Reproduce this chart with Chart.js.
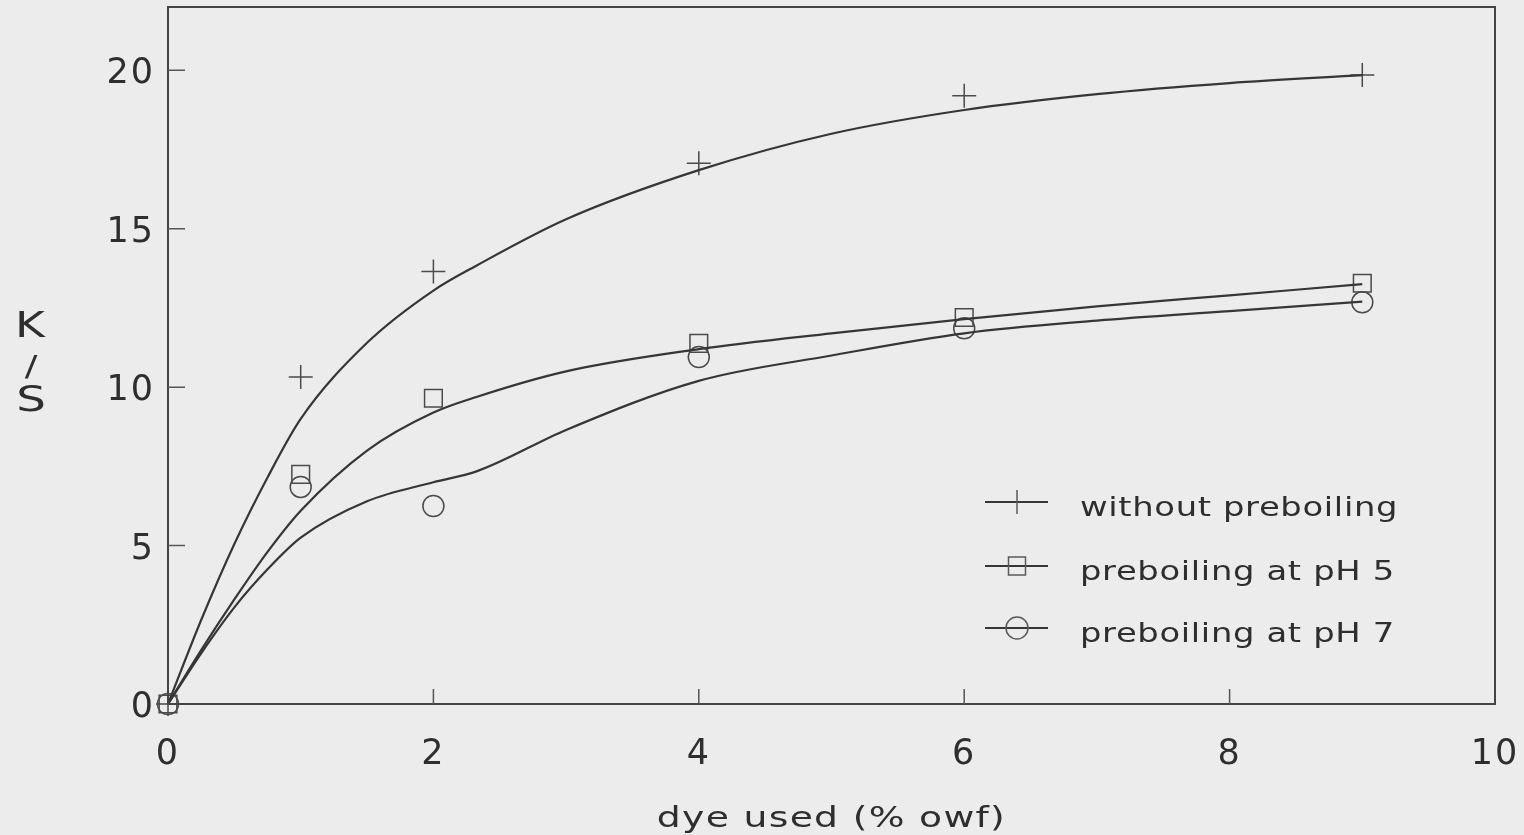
<!DOCTYPE html>
<html>
<head>
<meta charset="utf-8">
<script src="https://cdn.jsdelivr.net/npm/chart.js@4/dist/chart.umd.min.js"></script>
<style>
  html, body { margin: 0; padding: 0; background: #ececec; }
  #wrap { width: 1524px; height: 835px; position: relative; }
</style>
</head>
<body>
<div id="wrap"><canvas id="c" width="1524" height="835"></canvas></div>
<script>
// ---- data ----
const doses = [0, 1, 2, 4, 6, 9];
const withoutPre = [0, 10.32, 13.65, 17.07, 19.2, 19.85];
const pre5 = [0, 7.25, 9.65, 11.38, 12.2, 13.28];
const pre7 = [0, 6.85, 6.25, 10.95, 11.86, 12.68];

// fitted curves
const curveX = [0, 0.25, 0.5, 0.75, 1, 1.5, 2, 2.33, 3, 4, 5, 6, 7, 8, 9];
const curveWithout = [0, 2.65, 5.05, 7.15, 9.0, 11.4, 13.05, 13.85, 15.3, 16.85, 18.0, 18.75, 19.25, 19.6, 19.85];
const curve5 = [0, 1.7, 3.3, 4.8, 6.1, 8.0, 9.2, 9.7, 10.5, 11.2, 11.7, 12.15, 12.55, 12.9, 13.25];
const curve7 = [0, 1.6, 3.05, 4.25, 5.25, 6.4, 7.0, 7.35, 8.65, 10.2, 11.0, 11.7, 12.1, 12.4, 12.7];

const seriesNames = ['without preboiling', 'preboiling at pH 5', 'preboiling at pH 7'];
const markerStyles = ['cross', 'rect', 'circle'];
const xTicks = [0, 2, 4, 6, 8, 10];
const yTicks = [0, 5, 10, 15, 20];
const xTitle = 'dye used (% owf)';
const yTitleLines = ['K', '/', 'S'];

const INK = '#2e2e2e';
const LINE = '#363636';

const toPts = (xs, ys) => xs.map((x, i) => ({ x: x, y: ys[i] }));

function pointSet(label, ys, style, radius) {
  return {
    label: label, data: toPts(doses, ys), showLine: false,
    pointStyle: style, pointRadius: radius, pointHoverRadius: radius,
    pointBorderColor: '#4a4a4a', pointBackgroundColor: 'rgba(0,0,0,0)',
    pointBorderWidth: 1.5, clip: false
  };
}
function curveSet(ys) {
  return {
    label: '', data: toPts(curveX, ys), showLine: true, pointRadius: 0,
    borderColor: LINE, borderWidth: 2.2, fill: false,
    cubicInterpolationMode: 'monotone'
  };
}

const markerRadius = { cross: 12, rect: 12.5, circle: 10.5 };
const SX = 1.3; // horizontal stretch of the reference lettering

function wideText(ctx, text, x, y, align) {
  ctx.save();
  ctx.translate(x, y);
  ctx.scale(SX, 1);
  ctx.textAlign = align;
  ctx.fillText(text, 0, 0);
  ctx.restore();
}

const framePlugin = {
  id: 'frame',
  beforeDraw(chart) {
    chart.ctx.letterSpacing = '2px';
  },
  afterDraw(chart) {
    const { ctx, chartArea: a, scales } = chart;
    ctx.save();
    // frame
    ctx.strokeStyle = '#444';
    ctx.lineWidth = 2;
    ctx.strokeRect(a.left, a.top, a.right - a.left, a.bottom - a.top);
    // inner tick marks
    ctx.lineWidth = 1.5;
    ctx.strokeStyle = '#555';
    ctx.beginPath();
    yTicks.forEach(v => {
      if (v === 0) return;
      const y = scales.y.getPixelForValue(v);
      ctx.moveTo(a.left, y); ctx.lineTo(a.left + 17, y);
    });
    xTicks.forEach(v => {
      if (v === 0 || v === 10) return;
      const x = scales.x.getPixelForValue(v);
      ctx.moveTo(x, a.bottom); ctx.lineTo(x, a.bottom - 15);
    });
    ctx.stroke();

    ctx.fillStyle = INK;
    ctx.textBaseline = 'alphabetic';
    // x-axis title
    ctx.letterSpacing = '1px';
    ctx.font = '29px "DejaVu Sans"';
    wideText(ctx, xTitle, (a.left + a.right) / 2, 827, 'center');

    // y-axis title stacked
    ctx.letterSpacing = '0px';
    ctx.font = '35px "DejaVu Sans"';
    wideText(ctx, yTitleLines[0], 30, 337, 'center');
    ctx.font = '29px "DejaVu Sans"';
    wideText(ctx, yTitleLines[1], 31, 376, 'center');
    ctx.font = '36px "DejaVu Sans"';
    wideText(ctx, yTitleLines[2], 31, 411, 'center');

    // legend
    const lx0 = a.left + 817, lx1 = a.left + 880, mx = a.left + 849, tx = a.left + 912;
    const rows = [a.bottom - 202, a.bottom - 138, a.bottom - 76];
    ctx.font = '26px "DejaVu Sans"';
    ctx.letterSpacing = '0.5px';
    rows.forEach((ry, i) => {
      ctx.strokeStyle = LINE;
      ctx.lineWidth = 2.2;
      ctx.beginPath(); ctx.moveTo(lx0, ry); ctx.lineTo(lx1, ry); ctx.stroke();
      ctx.strokeStyle = '#5a5a5a';
      ctx.lineWidth = 1.5;
      ctx.beginPath();
      if (markerStyles[i] === 'cross') {
        ctx.moveTo(mx, ry - 12); ctx.lineTo(mx, ry + 12);
      } else if (markerStyles[i] === 'rect') {
        ctx.rect(mx - 8.5, ry - 9, 17, 18);
      } else {
        ctx.arc(mx, ry, 11, 0, Math.PI * 2);
      }
      ctx.stroke();
      ctx.fillStyle = INK;
      wideText(ctx, seriesNames[i], tx, ry + 14, 'left');
    });
    ctx.restore();
  }
};

new Chart(document.getElementById('c'), {
  type: 'scatter',
  data: {
    datasets: [
      curveSet(curveWithout), curveSet(curve5), curveSet(curve7),
      pointSet(seriesNames[0], withoutPre, 'cross', markerRadius.cross),
      pointSet(seriesNames[1], pre5, 'rect', markerRadius.rect),
      pointSet(seriesNames[2], pre7, 'circle', markerRadius.circle)
    ]
  },
  options: {
    responsive: false,
    animation: false,
    events: [],
    layout: { autoPadding: false, padding: { top: 7, right: 29, left: 0, bottom: 0 } },
    plugins: { legend: { display: false }, tooltip: { enabled: false } },
    scales: {
      x: {
        type: 'linear', min: 0, max: 10,
        afterBuildTicks(s) { s.ticks = xTicks.map(v => ({ value: v })); },
        afterFit(s) { s.height = 131; s.paddingLeft = 0; s.paddingRight = 0; },
        grid: { display: false, drawTicks: false },
        border: { display: false },
        ticks: { color: INK, padding: 30, font: { family: 'DejaVu Sans', size: 35 } }
      },
      y: {
        type: 'linear', min: 0, max: 22,
        afterBuildTicks(s) { s.ticks = yTicks.map(v => ({ value: v })); },
        afterFit(s) { s.width = 168; s.paddingTop = 0; s.paddingBottom = 0; },
        grid: { display: false, drawTicks: false },
        border: { display: false },
        ticks: { color: INK, padding: 13, labelOffset: 4, font: { family: 'DejaVu Sans', size: 35 } }
      }
    }
  },
  plugins: [framePlugin]
});
</script>
</body>
</html>
